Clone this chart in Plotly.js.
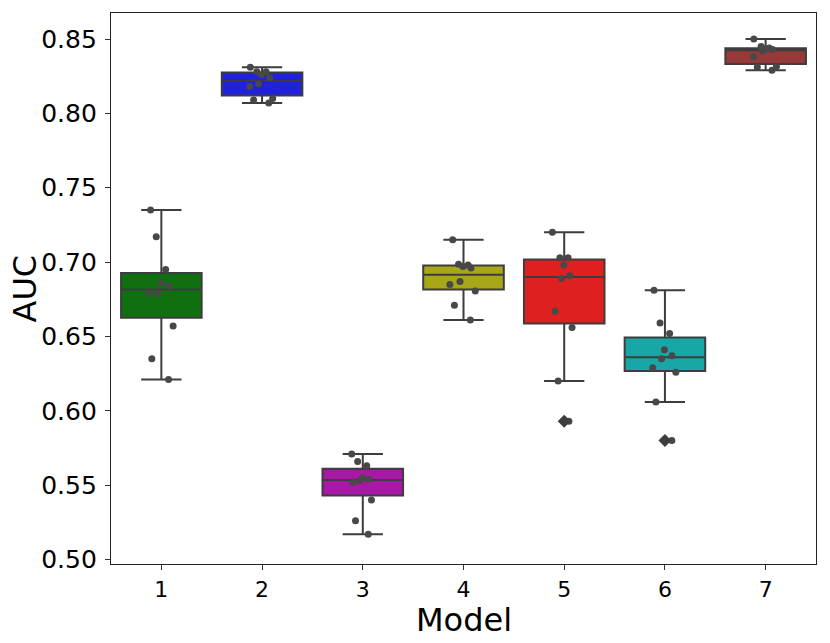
<!DOCTYPE html>
<html>
<head>
<meta charset="utf-8">
<script src="https://cdn.plot.ly/plotly-3.0.1.min.js"></script>
<style>html,body{margin:0;padding:0;background:#fff;}#chart{width:830px;height:643px;}</style>
</head>
<body>
<div id="chart"></div>
<script>
// ---- data ----
const categories = ['1', '2', '3', '4', '5', '6', '7'];
const model1 = [0.735, 0.717, 0.695, 0.686, 0.684, 0.679, 0.679, 0.657, 0.635, 0.621];
const model2 = [0.831, 0.828, 0.828, 0.826, 0.824, 0.820, 0.818, 0.810, 0.809, 0.807];
const model3 = [0.571, 0.566, 0.563, 0.555, 0.554, 0.553, 0.552, 0.540, 0.526, 0.517];
const model4 = [0.715, 0.6985, 0.698, 0.697, 0.696, 0.687, 0.685, 0.6805, 0.671, 0.661];
const model5 = [0.720, 0.703, 0.703, 0.698, 0.691, 0.689, 0.667, 0.656, 0.620, 0.593];
const model6 = [0.681, 0.659, 0.652, 0.641, 0.637, 0.635, 0.629, 0.626, 0.606, 0.580];
const model7 = [0.850, 0.845, 0.844, 0.8435, 0.843, 0.842, 0.838, 0.8315, 0.831, 0.829];
const yTickVals = [0.50, 0.55, 0.60, 0.65, 0.70, 0.75, 0.80, 0.85];
const yTickText = ['0.50', '0.55', '0.60', '0.65', '0.70', '0.75', '0.80', '0.85'];
const xTitle = 'Model';
const yTitle = 'AUC';

// ---- styles ----
const boxColors = ['#107010', '#2020df', '#a718a7', '#a7a718', '#df2020', '#18a7a7', '#963939'];
const lineGray = '#3d3d3d';
const dotGray = '#484848';
const FONT = 'DejaVu Sans, Liberation Sans, sans-serif';

const seriesList = [model1, model2, model3, model4, model5, model6, model7];

// numpy-style linear percentile (as seaborn/matplotlib uses)
function pct(sorted, p) {
  const pos = p * (sorted.length - 1);
  const lo = Math.floor(pos), hi = Math.ceil(pos);
  return sorted[lo] + (sorted[hi] - sorted[lo]) * (pos - lo);
}

const traces = [];
const outX = [], outY = [];
seriesList.forEach((vals, i) => {
  const s = vals.slice().sort((a, b) => a - b);
  const q1 = pct(s, 0.25), med = pct(s, 0.5), q3 = pct(s, 0.75);
  const iqr = q3 - q1;
  const lo = q1 - 1.5 * iqr, hi = q3 + 1.5 * iqr;
  const inside = s.filter(v => v >= lo - 1e-12 && v <= hi + 1e-12);
  s.forEach(v => { if (v < lo - 1e-12 || v > hi + 1e-12) { outX.push(categories[i]); outY.push(v); } });
  traces.push({
    type: 'box',
    x: [categories[i]],
    q1: [q1], median: [med], q3: [q3],
    lowerfence: [inside[0]], upperfence: [inside[inside.length - 1]],
    width: 0.8,
    whiskerwidth: 0.5,
    fillcolor: boxColors[i],
    line: { color: lineGray, width: 2 },
    boxpoints: false,
    hoverinfo: 'skip',
    showlegend: false
  });
});

// outlier diamonds (drawn by the box plot in the reference)
traces.push({
  type: 'scatter', mode: 'markers', x: outX, y: outY,
  marker: { symbol: 'diamond', size: 10, color: lineGray },
  hoverinfo: 'skip', showlegend: false
});

// jittered strip points
seriesList.forEach((vals, i) => {
  traces.push({
    type: 'box',
    x: vals.map(() => categories[i]),
    y: vals,
    width: 0.8,
    boxpoints: 'all',
    jitter: 0.4,
    pointpos: 0,
    fillcolor: 'rgba(0,0,0,0)',
    line: { color: 'rgba(0,0,0,0)', width: 0 },
    whiskerwidth: 0,
    marker: { color: dotGray, size: 7, opacity: 1 },
    hoverinfo: 'skip',
    showlegend: false
  });
});

const layout = {
  width: 830, height: 643,
  margin: { l: 111, r: 14, t: 13, b: 79 },
  paper_bgcolor: '#ffffff', plot_bgcolor: '#ffffff',
  font: { family: FONT, color: '#000000' },
  boxmode: 'overlay',
  showlegend: false,
  xaxis: {
    type: 'category',
    categoryorder: 'array', categoryarray: categories,
    range: [-0.5, 6.5],
    showgrid: false, zeroline: false,
    showline: true, mirror: true, linecolor: '#222222', linewidth: 1.2,
    ticks: 'outside', ticklen: 5, tickwidth: 1, tickcolor: '#333333',
    tickfont: { family: FONT, size: 22, color: '#000000' },
    ticklabelstandoff: 0,
    automargin: false
  },
  yaxis: {
    range: [0.497, 0.8675],
    tickvals: yTickVals, ticktext: yTickText,
    showgrid: false, zeroline: false,
    showline: true, mirror: true, linecolor: '#222222', linewidth: 1.2,
    ticks: 'outside', ticklen: 5, tickwidth: 1, tickcolor: '#333333',
    tickfont: { family: FONT, size: 25, color: '#000000' },
    ticklabelstandoff: 3,
    automargin: false
  },
  annotations: [
    { text: xTitle, xref: 'paper', yref: 'paper', x: 0.5, y: -0.102,
      xanchor: 'center', yanchor: 'middle', showarrow: false, borderpad: 0,
      font: { family: FONT, size: 32, color: '#000000' } },
    { text: yTitle, xref: 'paper', yref: 'paper', x: -0.122, y: 0.5,
      xanchor: 'center', yanchor: 'middle', showarrow: false, textangle: -90, borderpad: 0,
      font: { family: FONT, size: 32, color: '#000000' } }
  ]
};

Plotly.newPlot('chart', traces, layout, { displayModeBar: false, staticPlot: true });
</script>
</body>
</html>
